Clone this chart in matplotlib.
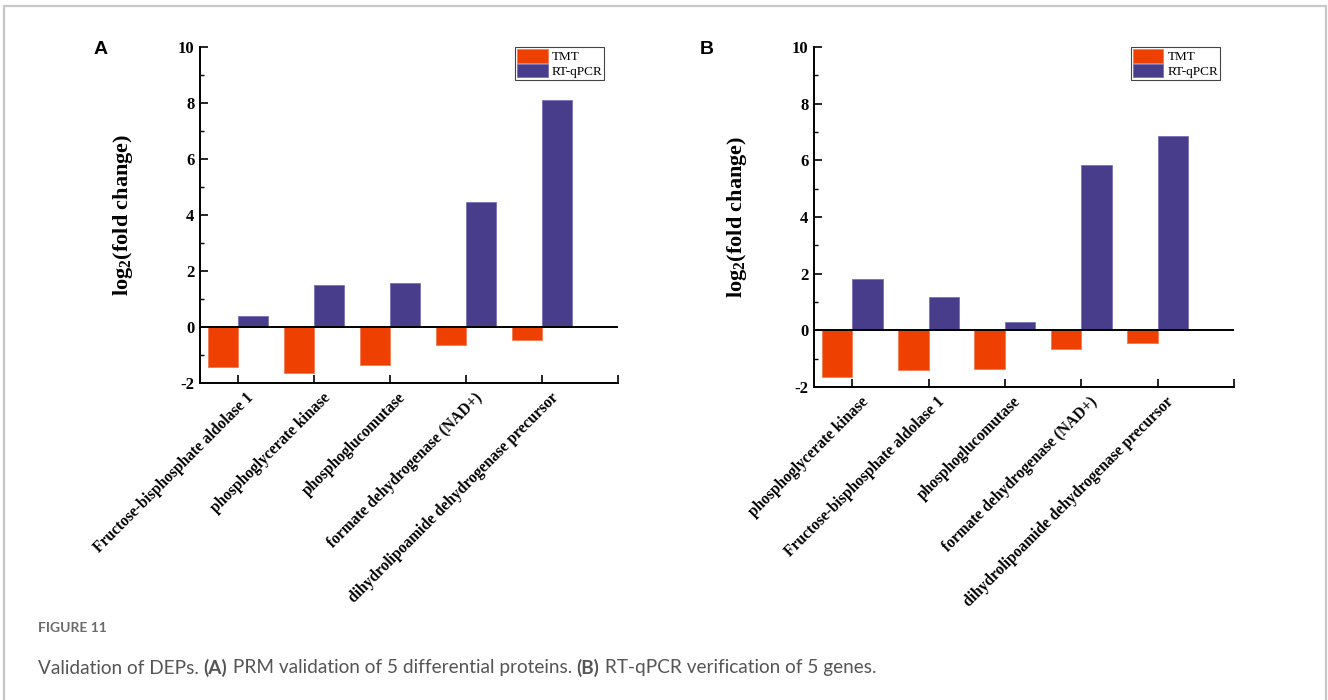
import matplotlib
matplotlib.use("Agg")
import matplotlib.pyplot as plt
import numpy as np
from matplotlib.patches import Rectangle
from matplotlib.ticker import MultipleLocator, FixedLocator
import matplotlib.transforms as mtrans

# ---- data ----
cats_A = ["Fructose-bisphosphate aldolase 1", "phosphoglycerate kinase",
          "phosphoglucomutase", "formate dehydrogenase (NAD+)",
          "dihydrolipoamide dehydrogenase precursor"]
tmt_A = [-1.43, -1.66, -1.37, -0.65, -0.45]
qpcr_A = [0.40, 1.51, 1.57, 4.46, 8.11]

cats_B = ["phosphoglycerate kinase", "Fructose-bisphosphate aldolase 1",
          "phosphoglucomutase", "formate dehydrogenase (NAD+)",
          "dihydrolipoamide dehydrogenase precursor"]
tmt_B = [-1.65, -1.39, -1.36, -0.65, -0.44]
qpcr_B = [1.80, 1.16, 0.29, 5.84, 6.86]

series_names = ["TMT", "RT-qPCR"]
yticks = [-2, 0, 2, 4, 6, 8, 10]

C_TMT = "#EE4000"
C_QPCR = "#483D8B"
SERIF = ["Liberation Serif", "DejaVu Serif"]

plt.rcParams["axes.unicode_minus"] = False
plt.rcParams["mathtext.fontset"] = "custom"
plt.rcParams["mathtext.rm"] = "Liberation Serif"
plt.rcParams["mathtext.bf"] = "Liberation Serif:bold"

W, H = 1328, 700
fig = plt.figure(figsize=(W / 100, H / 100), dpi=100)

# outer frame
fig.add_artist(Rectangle((4 / W, -0.05), (1322) / W, 1 - 6 / H + 0.05,
                         transform=fig.transFigure, fill=False,
                         edgecolor="#c8c8c8", linewidth=1.6))


def panel(rect, cats, tmt, qpcr, letter, letter_x):
    ax = fig.add_axes(rect)
    x = np.arange(1, len(cats) + 1)
    w = 0.4
    ax.bar(x - w / 2, tmt, width=w, color=C_TMT, edgecolor="#f47a50",
           linewidth=0.6, label=series_names[0])
    ax.bar(x + w / 2, qpcr, width=w, color=C_QPCR, edgecolor="#7a70b8",
           linewidth=0.6, label=series_names[1])
    ax.axhline(0, color="black", linewidth=1.4, zorder=3)
    ax.set_xlim(0.5, 6.0)
    ax.set_ylim(-2, 10)
    ax.set_yticks(yticks)
    ax.set_yticklabels([str(v) for v in yticks])
    ax.yaxis.set_minor_locator(MultipleLocator(1))
    ax.xaxis.set_major_locator(FixedLocator(list(x) + [6]))
    ax.set_xticklabels([""] * (len(cats) + 1))
    # category labels, rotated 45 degrees below the axis
    base = mtrans.blended_transform_factory(ax.transData, ax.transAxes)
    off = mtrans.ScaledTranslation(8 / 100, -7 / 100, fig.dpi_scale_trans)
    for xi, c in zip(x, cats):
        ax.text(xi, 0, c, transform=base + off, rotation=45, ha="right",
                va="top", rotation_mode="anchor", fontsize=11.2,
                fontweight="bold", family=SERIF, clip_on=False)
    for lbl in ax.get_yticklabels():
        lbl.set_fontsize(12)
        lbl.set_fontweight("bold")
        lbl.set_family(SERIF)
    ax.tick_params(axis="both", which="major", direction="in", length=6,
                   width=1.2, pad=4)
    ax.tick_params(axis="y", which="minor", direction="in", length=3,
                   width=1.0)
    for s in ["top", "right"]:
        ax.spines[s].set_visible(False)
    for s in ["left", "bottom"]:
        ax.spines[s].set_linewidth(1.4)
    ax.set_ylabel(r"$\mathbf{log_2}$(fold change)", fontsize=16,
                  fontweight="bold", family=SERIF, labelpad=31)
    leg = ax.legend(loc="upper right", bbox_to_anchor=(0.967, 1.0),
                    borderaxespad=0, fancybox=False, framealpha=1,
                    edgecolor="#444444", prop={"family": SERIF, "size": 9.5},
                    handlelength=2.3, handleheight=1.2, labelspacing=0.05,
                    handletextpad=0.3, borderpad=0.15)
    leg.get_frame().set_linewidth(0.8)
    fig.text(letter_x / W, 1 - 50 / H, letter, fontsize=14, fontweight="bold",
             family=["Liberation Sans", "DejaVu Sans"], ha="left", va="center")
    return ax


axA = panel([200 / W, 1 - 383 / H, 418 / W, 336 / H], cats_A, tmt_A, qpcr_A,
            "A", 94)
axB = panel([814 / W, 1 - 387 / H, 420 / W, 340 / H], cats_B, tmt_B, qpcr_B,
            "B", 700)

# caption
fig.text(38 / W, 1 - 628 / H, "FIGURE 11", fontsize=10, color="#6b6b6b",
         fontweight="bold", family=["Lato", "DejaVu Sans"], ha="left",
         va="center")
parts = [("Validation of DEPs. ", "normal"), ("(A)", "bold"),
         (" PRM validation of 5 differential proteins. ", "normal"),
         ("(B)", "bold"), (" RT-qPCR verification of 5 genes.", "normal")]
fig.canvas.draw()
r = fig.canvas.get_renderer()
xpos = 38
for txt, wt in parts:
    t = fig.text(xpos / W, 1 - 668 / H, txt, fontsize=13.7, color="#555555",
                 fontweight=wt, family=["Lato", "DejaVu Sans"], ha="left",
                 va="center")
    bb = t.get_window_extent(renderer=r)
    xpos += bb.width

fig.savefig("out.png", dpi=100)
